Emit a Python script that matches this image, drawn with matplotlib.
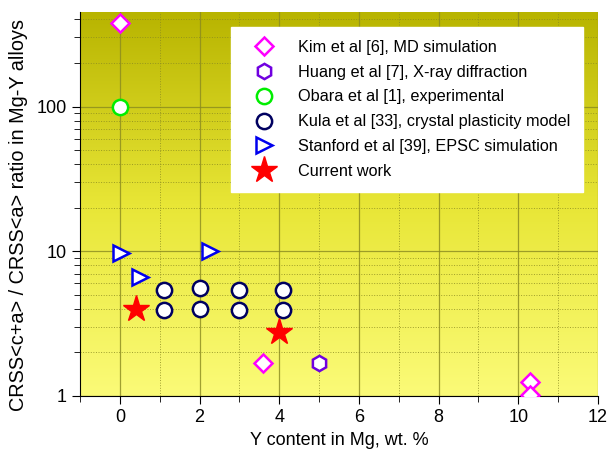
import numpy as np
import matplotlib
matplotlib.use('Agg')
from matplotlib import pyplot as plt
from matplotlib.colors import LinearSegmentedColormap

# data
kim_x = [0.0, 3.6, 10.3, 10.3]
kim_y = [380, 1.69, 1.25, 1.02]
huang_x = [5.0]
huang_y = [1.69]
obara_x = [0.0]
obara_y = [100]
kula_x = [1.1, 1.1, 2.0, 2.0, 3.0, 3.0, 4.1, 4.1]
kula_y = [5.4, 3.92, 5.55, 4.02, 5.4, 3.92, 5.4, 3.92]
stanford_x = [0.02, 0.5, 2.25]
stanford_y = [9.7, 6.6, 10.0]
current_x = [0.4, 4.0]
current_y = [4.02, 2.78]

labels = ['Kim et al [6], MD simulation',
          'Huang et al [7], X-ray diffraction',
          'Obara et al [1], experimental',
          'Kula et al [33], crystal plasticity model',
          'Stanford et al [39], EPSC simulation',
          'Current work']

plt.rcParams['font.family'] = ['Liberation Sans', 'DejaVu Sans']
fig = plt.figure(figsize=(6.08, 4.61), dpi=100)
ax = fig.add_axes([80 / 608, 1 - 396 / 461, 518 / 608, 384 / 461])

# background gradient, olive at top to pale yellow at bottom
cmap = LinearSegmentedColormap.from_list('bg', ['#fbfb78', '#e8e636', '#b8b400'])
grad = np.linspace(0, 1, 256).reshape(-1, 1)
ax.imshow(grad, aspect='auto', cmap=cmap, origin='lower',
          extent=(0, 1, 0, 1), transform=ax.transAxes, zorder=0)

ms = 11
ax.plot(kim_x, kim_y, 'D', ms=9, mfc='white', mec='#ff00ff', mew=1.8,
        label=labels[0], zorder=5)
ax.plot(huang_x, huang_y, 'h', ms=ms, mfc='white', mec='#7000e0', mew=1.8,
        label=labels[1], zorder=5)
ax.plot(obara_x, obara_y, 'o', ms=ms, mfc='white', mec='#00ee00', mew=1.8,
        label=labels[2], zorder=5)
ax.plot(kula_x, kula_y, 'o', ms=ms, mfc='white', mec='#000060', mew=1.8,
        label=labels[3], zorder=5)
ax.plot(stanford_x, stanford_y, '>', ms=12, mfc='white', mec='#0000ee', mew=1.8,
        label=labels[4], zorder=5)
ax.plot(current_x, current_y, '*', ms=20, color='#ff0000', mec='#ff0000',
        label=labels[5], zorder=5)

ax.set_yscale('log')
ax.set_xlim(-1, 12)
ax.set_ylim(1, 450)
ax.set_xticks([0, 2, 4, 6, 8, 10, 12])
ax.set_xticks([-1, 1, 3, 5, 7, 9, 11], minor=True)
ax.set_yticks([1, 10, 100])
ax.set_yticklabels(['1', '10', '100'])

ax.grid(True, which='major', color='#8a8a20', lw=0.9, ls='-', alpha=0.8)
ax.grid(True, which='minor', color='#8a8a20', lw=0.7, ls=':', alpha=0.8)
ax.set_axisbelow(True)

for s in ('top', 'right'):
    ax.spines[s].set_visible(False)
ax.spines['left'].set_color('black')
ax.spines['bottom'].set_color('black')
ax.tick_params(which='both', direction='out', labelsize=13)
ax.tick_params(which='major', length=6)
ax.tick_params(which='minor', length=4)

ax.set_xlabel('Y content in Mg, wt. %', fontsize=13, labelpad=4)
ax.set_ylabel('CRSS<c+a> / CRSS<a> ratio in Mg-Y alloys', fontsize=14.3)
ax.yaxis.set_label_coords(-0.1, 0.471)

leg = ax.legend(loc='upper right', bbox_to_anchor=(0.971, 0.961), fontsize=11.7,
                frameon=True, fancybox=False, edgecolor='white', framealpha=1,
                handletextpad=0.8, borderpad=0.8, labelspacing=0.6,
                handlelength=2.5, borderaxespad=0)
leg.set_zorder(10)

fig.savefig('out.png', dpi=100)
